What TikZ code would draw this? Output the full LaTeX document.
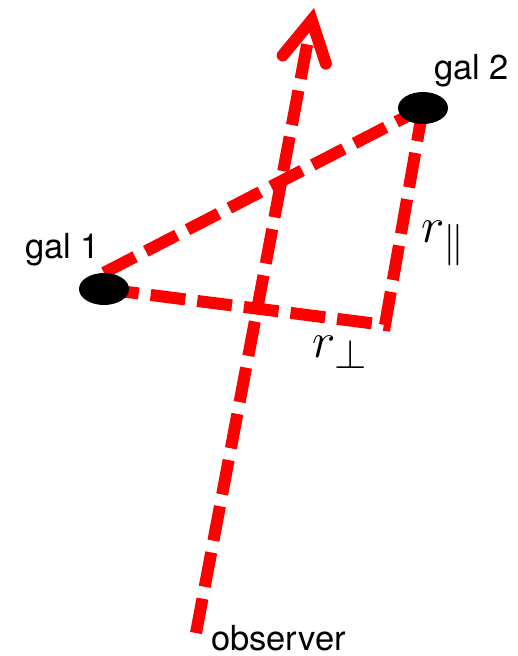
\documentclass[tikz,border=0pt]{standalone}
\usepackage{graphicx}
\usepackage{fontspec}
\setmainfont{TeX Gyre Heros}
\usetikzlibrary{arrows.meta,shapes.geometric,backgrounds}
\definecolor{losred}{HTML}{FF0000}
\newcommand{\bigmath}[1]{\scalebox{2}{$#1$}}

\begin{document}
\begin{tikzpicture}[x=1pt,y=-1pt,
 galaxy/.style={ellipse,fill=black,minimum width=50pt,minimum height=32pt,inner sep=0pt},
 sepline/.style={draw=losred,line width=12pt,dash pattern=on 35pt off 12pt},
 lbl/.style={inner sep=0pt,anchor=base west,font=\fontsize{34.5}{35}\selectfont},
 mlbl/.style={inner sep=0pt,anchor=base west,font=\fontsize{24.88}{25}\selectfont}]
\useasboundingbox (0,0) rectangle (518,656);
\node[galaxy] (gal1) at (104,289) {};
\node[galaxy] (gal2) at (423,108) {};
\coordinate (corner) at (385,325);
\coordinate (obs) at (196,633);
\coordinate (los) at (314,8);
\node[lbl] (lab1) at (25,258) {gal 1};
\node[lbl] (lab2) at (434,79) {gal 2};
\node[lbl] (labobs) at (211,650) {observer};
\node[mlbl] (rpar) at (421,242) {\bigmath{r_\parallel}};
\node[mlbl] (rperp) at (312,357) {\bigmath{r_\perp}};
\begin{scope}[on background layer]
\draw[sepline] (gal1.north) -- (gal2.center);
\draw[sepline] (gal1.center) -- (corner) -- (gal2.center);
\draw[sepline,-{Straight Barb[length=40pt,width=44pt,line cap=round,line join=miter]}] (obs) -- (los);
\end{scope}
\end{tikzpicture}
\end{document}
